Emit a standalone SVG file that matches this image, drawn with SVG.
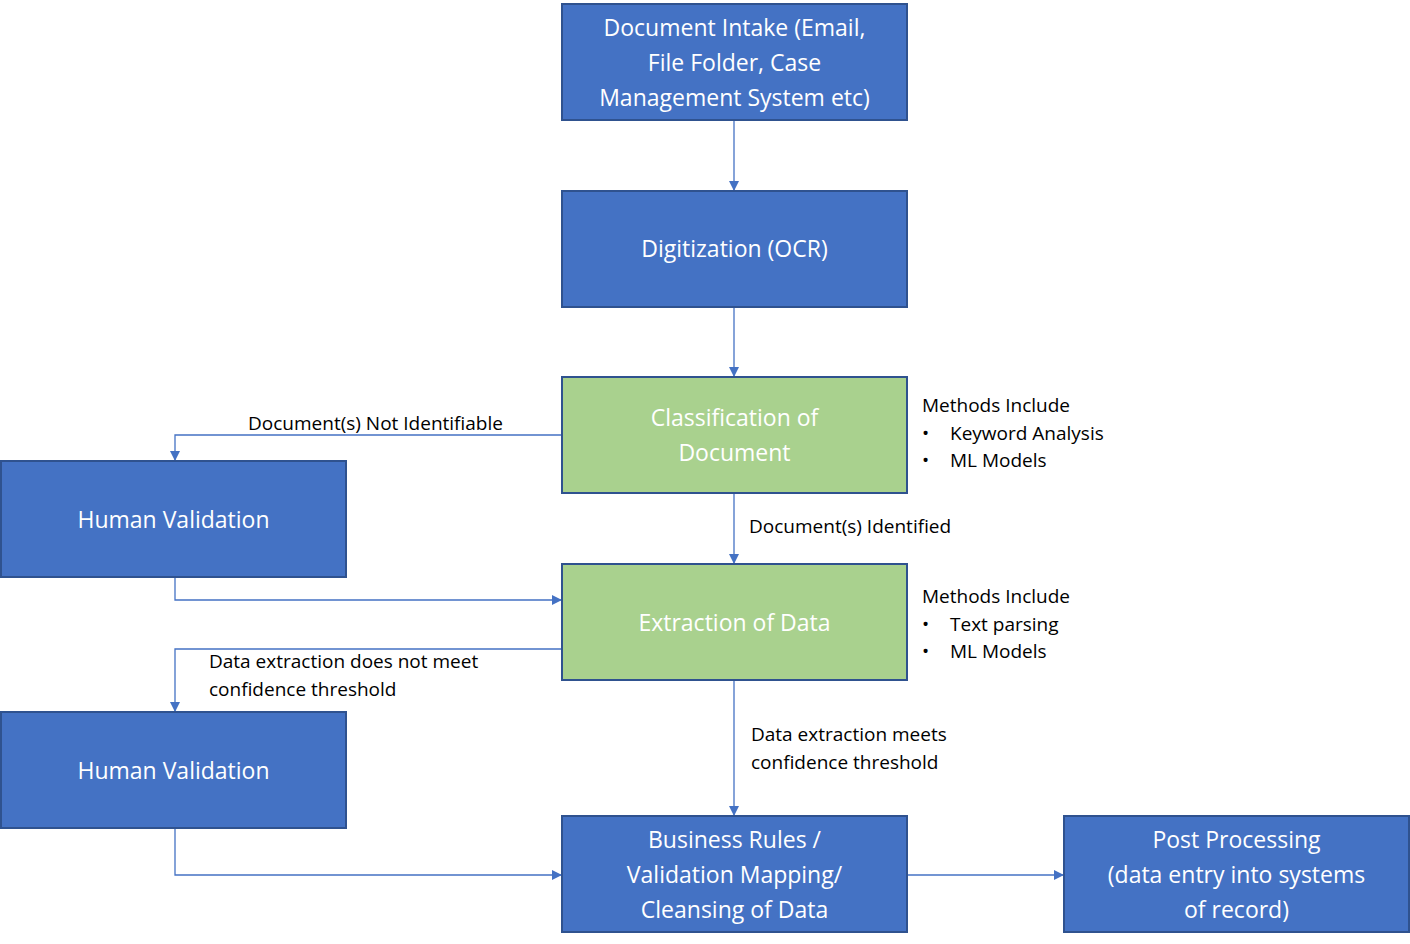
<svg xmlns="http://www.w3.org/2000/svg" width="1410" height="944" viewBox="0 0 1410 944">
<style>
.b{fill:#4472C4;stroke:#2F528F;stroke-width:2}
.g{fill:#A9D18E;stroke:#2F528F;stroke-width:2}
.t{font-family:"Open Sans","Noto Sans",sans-serif;font-size:23px;fill:#fff;text-anchor:middle}
.l{font-family:"Open Sans","Noto Sans",sans-serif;font-size:19px;fill:#000}
.c{fill:none;stroke:#4472C4;stroke-width:1.3;marker-end:url(#a)}
</style>
<defs><marker id="a" markerWidth="10" markerHeight="10" refX="9" refY="5" orient="auto" markerUnits="userSpaceOnUse"><path d="M0,0L10,5L0,10z" fill="#4472C4"/></marker></defs>
<rect width="1410" height="944" fill="#fff"/>
<g id="connectors">
<path class="c" d="M734,121V190"/>
<path class="c" d="M734,308V376"/>
<path class="c" d="M561,435H175V460"/>
<path class="c" d="M175,578V600H561"/>
<path class="c" d="M734,494V563"/>
<path class="c" d="M561,649H175V711"/>
<path class="c" d="M734,681V815"/>
<path class="c" d="M175,829V875H561"/>
<path class="c" d="M908,875H1063"/>
</g>
<g id="intake"><rect class="b" x="562" y="4" width="345" height="116"/><text class="t" x="734.5" y="36">Document Intake (Email,</text><text class="t" x="734.5" y="71">File Folder, Case</text><text class="t" x="734.5" y="106">Management System etc)</text></g>
<g id="ocr"><rect class="b" x="562" y="191" width="345" height="116"/><text class="t" x="734.5" y="257">Digitization (OCR)</text></g>
<g id="class"><rect class="g" x="562" y="377" width="345" height="116"/><text class="t" x="734.5" y="426">Classification of</text><text class="t" x="734.5" y="461">Document</text></g>
<g id="hv1"><rect class="b" x="1" y="461" width="345" height="116"/><text class="t" x="173.5" y="528">Human Validation</text></g>
<g id="extract"><rect class="g" x="562" y="564" width="345" height="116"/><text class="t" x="734.5" y="631">Extraction of Data</text></g>
<g id="hv2"><rect class="b" x="1" y="712" width="345" height="116"/><text class="t" x="173.5" y="779">Human Validation</text></g>
<g id="rules"><rect class="b" x="562" y="816" width="345" height="116"/><text class="t" x="734.5" y="848">Business Rules /</text><text class="t" x="734.5" y="883">Validation Mapping/</text><text class="t" x="734.5" y="918">Cleansing of Data</text></g>
<g id="post"><rect class="b" x="1064" y="816" width="345" height="116"/><text class="t" x="1236.5" y="848">Post Processing</text><text class="t" x="1236.5" y="883">(data entry into systems</text><text class="t" x="1236.5" y="918">of record)</text></g>
<g id="labels">
<text class="l" x="248" y="430">Document(s) Not Identifiable</text>
<text class="l" x="749" y="533">Document(s) Identified</text>
<text class="l" x="209" y="668">Data extraction does not meet</text>
<text class="l" x="209" y="696">confidence threshold</text>
<text class="l" x="751" y="741">Data extraction meets</text>
<text class="l" x="751" y="769">confidence threshold</text>
<text class="l" x="922" y="412">Methods Include</text>
<text class="l" x="922" y="440">•</text><text class="l" x="950" y="440">Keyword Analysis</text>
<text class="l" x="922" y="467">•</text><text class="l" x="950" y="467">ML Models</text>
<text class="l" x="922" y="603">Methods Include</text>
<text class="l" x="922" y="631">•</text><text class="l" x="950" y="631">Text parsing</text>
<text class="l" x="922" y="658">•</text><text class="l" x="950" y="658">ML Models</text>
</g>
</svg>
